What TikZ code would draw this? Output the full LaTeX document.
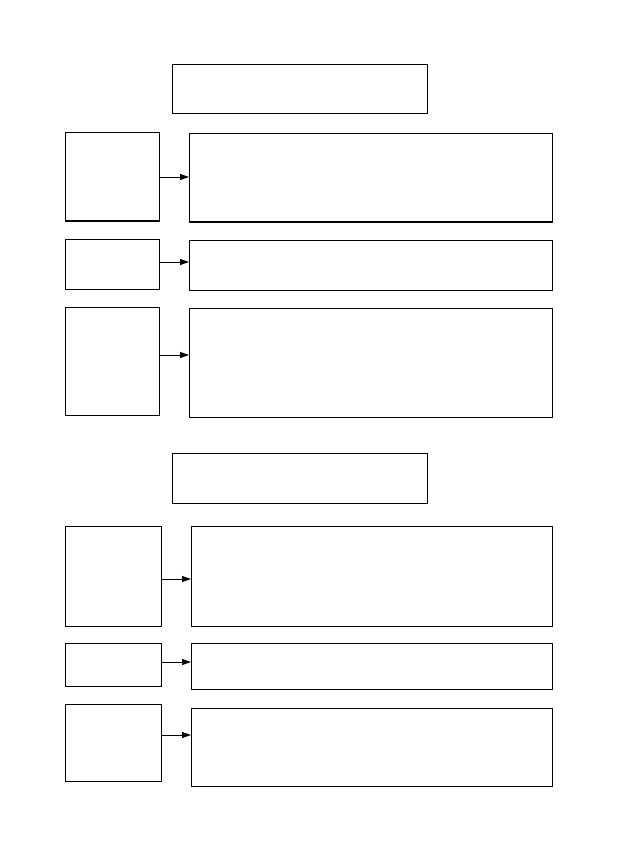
\documentclass[tikz,border=0pt]{standalone}
\usetikzlibrary{arrows.meta}
\begin{document}
\begin{tikzpicture}[x=1pt,y=-1pt,
  box/.style={draw,line width=1pt},
  conn/.style={line width=0.9pt,-{Triangle[length=9pt,width=6pt]}}]
\useasboundingbox (0,0) rectangle (617,850);
% first group
\draw[box] (172,65) rectangle (427,114) node[midway] (T1) {};
\draw[box] (65,133) rectangle (159,221) node[midway] (L1) {};
\draw[box] (189,134) rectangle (552,222) node[midway] (R1) {};
\draw[box] (65,239) rectangle (159,289) node[midway] (L2) {};
\draw[box] (189,240) rectangle (552,290) node[midway] (R2) {};
\draw[box] (65,307) rectangle (159,415) node[midway] (L3) {};
\draw[box] (189,308) rectangle (552,417) node[midway] (R3) {};
% second group
\draw[box] (172,453) rectangle (427,503) node[midway] (T2) {};
\draw[box] (65,526) rectangle (161,626) node[midway] (L4) {};
\draw[box] (191,526) rectangle (552,626) node[midway] (R4) {};
\draw[box] (65,643) rectangle (161,686) node[midway] (L5) {};
\draw[box] (191,643) rectangle (552,689) node[midway] (R5) {};
\draw[box] (65,704) rectangle (161,781) node[midway] (L6) {};
\draw[box] (191,708) rectangle (552,786) node[midway] (R6) {};
% connector anchor points
\coordinate (a1) at (159,177); \coordinate (b1) at (189,177);
\coordinate (a2) at (159,262); \coordinate (b2) at (189,262);
\coordinate (a3) at (159,355); \coordinate (b3) at (189,355);
\coordinate (a4) at (161,579); \coordinate (b4) at (191,579);
\coordinate (a5) at (161,662); \coordinate (b5) at (191,662);
\coordinate (a6) at (161,735); \coordinate (b6) at (191,735);
\foreach \i in {1,...,6} {\draw[conn] (a\i) -- (b\i);}
\end{tikzpicture}
\end{document}
